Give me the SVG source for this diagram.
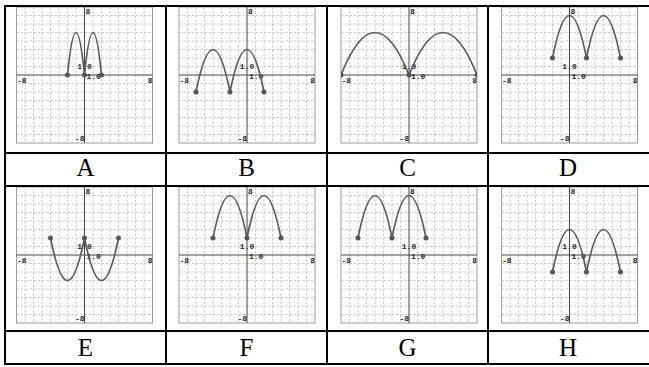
<svg xmlns="http://www.w3.org/2000/svg" width="649" height="367" viewBox="0 0 649 367">
<style>
.frame{fill:#fff;stroke:#999;stroke-width:1}
.grid{fill:none;stroke:#c8c8c8;stroke-width:1;stroke-dasharray:2.5 1.75}
.axis{fill:none;stroke:#444;stroke-width:1}
.tick{font-family:"Liberation Mono",monospace;font-weight:bold;font-size:8px;fill:#222}
.curve{fill:none;stroke:#5a5a5a;stroke-width:1.7}
.dot{fill:#555}
.tbl{fill:none;stroke:#000;stroke-width:2}
.lbl{font-family:"Liberation Serif",serif;font-size:25px;fill:#000;text-anchor:middle}
</style>
<defs>
<g id="plot">
<rect class="frame" x="-68" y="-68" width="136" height="136"/>
<path class="grid" d="M-59.5 -68V68M-51 -68V68M-42.5 -68V68M-34 -68V68M-25.5 -68V68M-17 -68V68M-8.5 -68V68M8.5 -68V68M17 -68V68M25.5 -68V68M34 -68V68M42.5 -68V68M51 -68V68M59.5 -68V68M-68 -59.5H68M-68 -51H68M-68 -42.5H68M-68 -34H68M-68 -25.5H68M-68 -17H68M-68 -8.5H68M-68 8.5H68M-68 17H68M-68 25.5H68M-68 34H68M-68 42.5H68M-68 51H68M-68 59.5H68"/>
<path class="axis" d="M-68 0H68M0 -68V68"/>
<text class="tick" x="1" y="-61">8</text>
<text class="tick" x="0" y="66" text-anchor="end">-8</text>
<text class="tick" x="-67.5" y="8">-8</text>
<text class="tick" x="68" y="8" text-anchor="end">8</text>
<text class="tick" x="0" y="-6" text-anchor="middle">1.0</text>
<text class="tick" x="2" y="4">1.0</text>
</g>
<clipPath id="clipC"><rect x="341" y="7" width="136" height="136"/></clipPath>
</defs>
<g id="cell-A">
<use href="#plot" x="84.5" y="75"/>
<path class="curve" d="M67.5 75Q76 -10 84.5 75Q93 -10 101.5 75"/>
<circle class="dot" cx="67.5" cy="75" r="2.5"/><circle class="dot" cx="84.5" cy="75" r="2.5"/><circle class="dot" cx="101.5" cy="75" r="2.5"/>
<text class="lbl" x="85.5" y="176">A</text>
</g>
<g id="cell-B">
<use href="#plot" x="247" y="75"/>
<path class="curve" d="M196 92Q213 7 230 92Q247 7 264 92"/>
<circle class="dot" cx="196" cy="92" r="2.5"/><circle class="dot" cx="230" cy="92" r="2.5"/><circle class="dot" cx="264" cy="92" r="2.5"/>
<text class="lbl" x="246.5" y="176">B</text>
</g>
<g id="cell-C">
<use href="#plot" x="409" y="75"/>
<g clip-path="url(#clipC)">
<path class="curve" d="M341 75Q375 -10 409 75Q443 -10 477 75"/>
<circle class="dot" cx="341" cy="75" r="2.5"/><circle class="dot" cx="409" cy="75" r="2.5"/><circle class="dot" cx="477" cy="75" r="2.5"/>
</g>
<text class="lbl" x="407.5" y="176">C</text>
</g>
<g id="cell-D">
<use href="#plot" x="569.5" y="75"/>
<path class="curve" d="M552.5 58Q569.5 -27 586.5 58Q603.5 -27 620.5 58"/>
<circle class="dot" cx="552.5" cy="58" r="2.5"/><circle class="dot" cx="586.5" cy="58" r="2.5"/><circle class="dot" cx="620.5" cy="58" r="2.5"/>
<text class="lbl" x="568" y="176">D</text>
</g>
<g id="cell-E">
<use href="#plot" x="84.5" y="255"/>
<path class="curve" d="M50.5 238Q67.5 323 84.5 238Q101.5 323 118.5 238"/>
<circle class="dot" cx="50.5" cy="238" r="2.5"/><circle class="dot" cx="84.5" cy="238" r="2.5"/><circle class="dot" cx="118.5" cy="238" r="2.5"/>
<text class="lbl" x="85.5" y="356">E</text>
</g>
<g id="cell-F">
<use href="#plot" x="247" y="255"/>
<path class="curve" d="M213 238Q230 153 247 238Q264 153 281 238"/>
<circle class="dot" cx="213" cy="238" r="2.5"/><circle class="dot" cx="247" cy="238" r="2.5"/><circle class="dot" cx="281" cy="238" r="2.5"/>
<text class="lbl" x="246.5" y="356">F</text>
</g>
<g id="cell-G">
<use href="#plot" x="409" y="255"/>
<path class="curve" d="M358 238Q375 153 392 238Q409 153 426 238"/>
<circle class="dot" cx="358" cy="238" r="2.5"/><circle class="dot" cx="392" cy="238" r="2.5"/><circle class="dot" cx="426" cy="238" r="2.5"/>
<text class="lbl" x="407.5" y="356">G</text>
</g>
<g id="cell-H">
<use href="#plot" x="569.5" y="255"/>
<path class="curve" d="M552.5 272Q569.5 187 586.5 272Q603.5 187 620.5 272"/>
<circle class="dot" cx="552.5" cy="272" r="2.5"/><circle class="dot" cx="586.5" cy="272" r="2.5"/><circle class="dot" cx="620.5" cy="272" r="2.5"/>
<text class="lbl" x="568" y="356">H</text>
</g>
<g id="table-lines">
<path class="tbl" d="M5 6H649M5 153H649M5 186H649M5 331H649M5 364H649M5 5V365M166 5V365M327 5V365M488 5V365"/>
</g>
</svg>
